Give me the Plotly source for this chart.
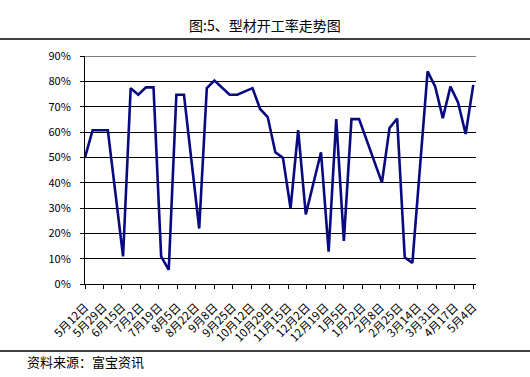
import pandas as pd
import plotly.graph_objects as go

# Observation dates (weekly readings that form the line's vertices)
dates = [
    "2009-05-12", "2009-05-19", "2009-06-02", "2009-06-16", "2009-06-23",
    "2009-06-30", "2009-07-07", "2009-07-14", "2009-07-21", "2009-07-28",
    "2009-08-04", "2009-08-11", "2009-08-25", "2009-09-01", "2009-09-08",
    "2009-09-22", "2009-09-29", "2009-10-13", "2009-10-20", "2009-10-27",
    "2009-11-03", "2009-11-10", "2009-11-17", "2009-11-24", "2009-12-01",
    "2009-12-15", "2009-12-22", "2009-12-29", "2010-01-05", "2010-01-12",
    "2010-01-19", "2010-02-09", "2010-02-16", "2010-02-23", "2010-03-02",
    "2010-03-09", "2010-03-23", "2010-03-30", "2010-04-06", "2010-04-13",
    "2010-04-20", "2010-04-27", "2010-05-04",
]
# Operating rate (%)
rates = [
    50.0, 60.7, 60.7, 10.9, 77.3,
    74.7, 77.6, 77.6, 10.9, 5.6,
    74.7, 74.7, 21.9, 77.3, 80.3,
    74.7, 74.7, 77.3, 69.1, 65.9,
    52.0, 49.8, 29.9, 60.7, 27.5,
    52.0, 12.8, 65.1, 17.0, 65.1,
    65.1, 40.0, 61.6, 65.3, 10.5,
    8.3, 83.9, 77.9, 65.5, 77.9,
    71.7, 59.2, 78.6,
]
# Axis tick dates and labels
tick_dates = [
    "2009-05-12", "2009-05-29", "2009-06-15", "2009-07-02", "2009-07-19",
    "2009-08-05", "2009-08-22", "2009-09-08", "2009-09-25", "2009-10-12",
    "2009-10-29", "2009-11-15", "2009-12-02", "2009-12-19", "2010-01-05",
    "2010-01-22", "2010-02-08", "2010-02-25", "2010-03-14", "2010-03-31",
    "2010-04-17", "2010-05-04",
]
tick_labels = [
    "5月12日", "5月29日", "6月15日", "7月2日", "7月19日", "8月5日", "8月22日",
    "9月8日", "9月25日", "10月12日", "10月29日", "11月15日", "12月2日",
    "12月19日", "1月5日", "1月22日", "2月8日", "2月25日", "3月14日",
    "3月31日", "4月17日", "5月4日",
]
y_ticks = [0, 10, 20, 30, 40, 50, 60, 70, 80, 90]

start = pd.Timestamp(dates[0])
x_days = [(pd.Timestamp(d) - start).days for d in dates]
tick_days = [(pd.Timestamp(d) - start).days for d in tick_dates]

FONT = "Noto Sans CJK SC"

fig = go.Figure()
fig.add_trace(go.Scatter(
    x=x_days, y=rates, mode="lines",
    line=dict(color="#0a0a80", width=2.6),
    hoverinfo="skip", showlegend=False,
))

W, H = 530, 377
L, R, T, B = 85, 476, 56, 284
pw, ph = R - L, B - T

def px(x):
    return (x - L) / pw

def py(y):
    return (B - y) / ph

fig.update_layout(
    width=W, height=H,
    margin=dict(l=L, r=W - R, t=T, b=H - B, pad=0),
    paper_bgcolor="white", plot_bgcolor="white",
    font=dict(family=FONT, size=11, color="black"),
    xaxis=dict(
        range=[0, 359.5], tickmode="array", tickvals=tick_days,
        ticktext=tick_labels, tickangle=-45, ticks="outside", ticklen=4,
        tickcolor="black", showline=True, linecolor="black", linewidth=1,
        showgrid=False, zeroline=False, tickfont=dict(size=11.5, family=FONT),
        ticklabelstandoff=7,
    ),
    yaxis=dict(
        range=[0, 90], tickmode="array", tickvals=y_ticks,
        ticktext=[f"{v}%" for v in y_ticks], ticks="outside", ticklen=4,
        tickcolor="black", showline=True, linecolor="black", linewidth=1,
        showgrid=True, gridcolor="black", gridwidth=1, zeroline=False,
        tickfont=dict(size=11, family=FONT), ticklabelstandoff=7,
    ),
    shapes=[
        dict(type="line", xref="paper", yref="paper", x0=px(0), x1=px(W),
             y0=py(39), y1=py(39), line=dict(color="black", width=1.5)),
        dict(type="line", xref="paper", yref="paper", x0=px(0), x1=px(W),
             y0=py(351), y1=py(351), line=dict(color="black", width=1.5)),
        dict(type="line", xref="paper", yref="y", x0=0, x1=1,
             y0=90, y1=90, line=dict(color="black", width=1)),
    ],
    annotations=[
        dict(text="图:5、型材开工率走势图", xref="paper", yref="paper",
             x=px(265), y=py(25), xanchor="center", yanchor="middle",
             showarrow=False, font=dict(size=14, family=FONT, color="black")),
        dict(text="资料来源：富宝资讯", xref="paper", yref="paper",
             x=px(25), y=py(361), xanchor="left", yanchor="middle",
             showarrow=False, font=dict(size=13, family=FONT, color="black")),
    ],
)

fig.write_html(
    "out.html",
    config={"displayModeBar": False},
    post_script="document.body.style.margin='0';document.body.style.padding='0';",
)
